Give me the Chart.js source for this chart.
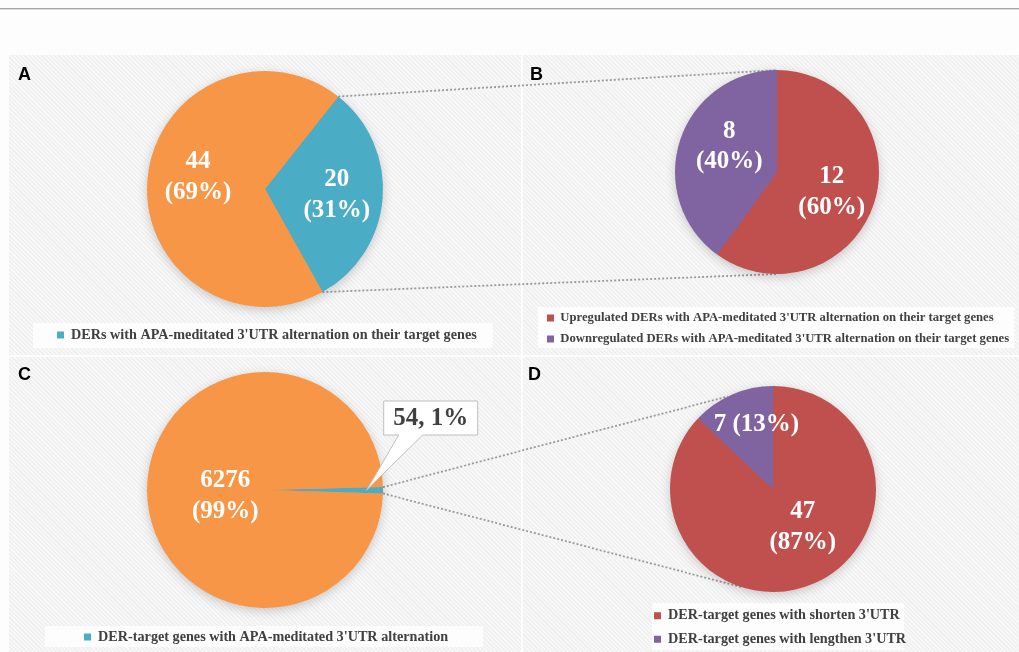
<!DOCTYPE html>
<html><head><meta charset="utf-8">
<script src="https://cdn.jsdelivr.net/npm/chart.js@4.4.0/dist/chart.umd.min.js"></script>
<style>
html,body{margin:0;padding:0;width:1019px;height:652px;overflow:hidden;background:#fdfdfd;}
#topline{position:absolute;left:0;top:8px;width:1019px;height:1px;background:#a6a6a6;border-bottom:1px solid #dcdcdc;}
.bg{position:absolute;z-index:0;background:repeating-linear-gradient(45deg,#f0f0f0 0px,#f0f0f0 1.5px,#f8f8f8 1.5px,#f8f8f8 3px);}
.letter{position:absolute;z-index:3;font:bold 18px "Liberation Sans",Arial,sans-serif;color:#000;line-height:18px;}
.cw{position:absolute;z-index:2;}
#links{position:absolute;left:0;top:0;z-index:1;}
</style></head><body>
<div id="topline"></div>
<div class="bg" style="left:9px;top:55px;width:512px;height:300px"></div>
<div class="bg" style="left:523px;top:55px;width:496px;height:300px"></div>
<div class="bg" style="left:9px;top:357px;width:512px;height:295px"></div>
<div class="bg" style="left:523px;top:357px;width:496px;height:295px"></div>
<canvas id="links" width="1019" height="652"></canvas>
<div id="root"></div>
<script>
// ---------------- data ----------------
const panelLetters = ['A', 'B', 'C', 'D'];

const catA = ["DERs with APA-meditated 3'UTR alternation on their target genes",
              "DERs without APA-meditated 3'UTR alternation on their target genes"];
const valA = [20, 44];

const catB = ["Upregulated DERs with APA-meditated 3'UTR alternation on their target genes",
              "Downregulated DERs with APA-meditated 3'UTR alternation on their target genes"];
const valB = [12, 8];

const catC = ["DER-target genes with APA-meditated 3'UTR alternation",
              "DER-target genes without APA-meditated 3'UTR alternation"];
const valC = [54, 6276];

const catD = ["DER-target genes with shorten 3'UTR",
              "DER-target genes with lengthen 3'UTR"];
const valD = [47, 7];

// ---------------- styles / layout ----------------
const BLUE = '#4BACC6', ORANGE = '#F79646', RED = '#C0504D', PURPLE = '#8064A2';
const SERIF = '"Liberation Serif","Times New Roman",serif';

const panels = [
  { id: 'A', cats: catA, vals: valA, colors: [BLUE, ORANGE], legendIdx: [0], rotation: 38.4,
    center: [265, 189], radius: 118,
    box: { left: 9, top: 55, w: 512, h: 300 }, pad: { left: 41, right: 0, top: 0, bottom: 2.9 },
    legFont: 14.2, legPad: 7,
    legBg: { l: 24, r: 16, t: 12, b: 13 }, letter: { left: 18, top: 65 },
    labels: [{ f: 0.61, turn: 0, mode: 'two' }, { f: 0.576, turn: 5.5, mode: 'two' }] },
  { id: 'B', cats: catB, vals: valB, colors: [RED, PURPLE], legendIdx: [0, 1], rotation: 0,
    center: [777, 172], radius: 102,
    box: { left: 523, top: 35, w: 496, h: 325 }, pad: { left: 15.7, right: 0, top: 0, bottom: 4.65 },
    legFont: 12.7, legPad: 8.3,
    legBg: { l: 9, r: 5, t: 11, b: 9 }, letter: { left: 530, top: 65 },
    labels: [{ f: 0.57, turn: 2, mode: 'two' }, { f: 0.53, turn: 10, mode: 'two' }] },
  { id: 'C', cats: catC, vals: valC, colors: [BLUE, ORANGE], legendIdx: [0], rotation: 88.6,
    center: [265, 490], radius: 118,
    box: { left: 9, top: 350, w: 512, h: 305 }, pad: { left: 68, right: 0, top: 0, bottom: 0.9 },
    legFont: 14.2, legPad: 7,
    legBg: { l: 39, r: 35, t: 11, b: 10 }, letter: { left: 18, top: 365 },
    labels: [{ f: 0.86, mode: 'callout', dx: 1.404, dy: -0.61 }, { f: 0.34, turn: -8.6, mode: 'two' }] },
  { id: 'D', cats: catD, vals: valD, colors: [RED, PURPLE], legendIdx: [0, 1], rotation: 0,
    center: [773, 489], radius: 103,
    box: { left: 523, top: 350, w: 496, h: 308 }, pad: { left: 121.6, right: 0, top: 0, bottom: 1.6 },
    legFont: 14.2, legPad: 9.4,
    legBg: { l: 2, r: -2, t: 12.7, b: 10.7 }, letter: { left: 528, top: 365 },
    labels: [{ f: 0.47, turn: -14.7, mode: 'two' }, { f: 0.65, turn: 9, mode: 'one' }] }
];

const links = [
  { from: 'A', idx: 0, edge: 'startAngle', to: 'B', deg: 0 },
  { from: 'A', idx: 0, edge: 'endAngle', to: 'B', deg: 180 },
  { from: 'C', idx: 0, edge: 'startAngle', to: 'D', deg: -26 },
  { from: 'C', idx: 0, edge: 'endAngle', to: 'D', deg: 198 }
];

// ---------------- plugin ----------------
function makeDeco(p) {
  return {
    id: 'deco' + p.id,
    afterLayout(chart) {
      const ca = chart.chartArea;
      const cx = p.center[0] - p.box.left, cy = p.center[1] - p.box.top, r = p.radius;
      ca.left = cx - r; ca.right = cx + r; ca.top = cy - r; ca.bottom = cy + r;
      ca.width = 2 * r; ca.height = 2 * r;
    },
    beforeDraw(chart) {
      const hb = chart.legend && chart.legend.legendHitBoxes;
      if (!hb || !hb.length) return;
      let l = Infinity, r = -Infinity, t = Infinity, b = -Infinity;
      hb.forEach(h => {
        l = Math.min(l, h.left); r = Math.max(r, h.left + h.width);
        const c = h.top + h.height / 2; t = Math.min(t, c); b = Math.max(b, c);
      });
      const ctx = chart.ctx;
      ctx.save();
      ctx.fillStyle = 'rgba(253,253,253,0.96)';
      const x0 = l - p.legBg.l, y0 = t - p.legBg.t;
      ctx.fillRect(x0, y0, r + p.legBg.r - x0, b + p.legBg.b - y0);
      ctx.restore();
    },
    beforeDatasetsDraw(chart) {
      const a = chart.getDatasetMeta(0).data[0];
      const ctx = chart.ctx;
      ctx.save();
      ctx.shadowColor = 'rgba(0,0,0,0.22)';
      ctx.shadowBlur = 12;
      ctx.shadowOffsetY = 3;
      ctx.fillStyle = p.colors[1];
      ctx.beginPath();
      ctx.arc(a.x, a.y, a.outerRadius - 1, 0, Math.PI * 2);
      ctx.fill();
      ctx.restore();
    },
    afterDatasetsDraw(chart) {
      const meta = chart.getDatasetMeta(0);
      const vals = chart.data.datasets[0].data;
      const total = vals.reduce((s, v) => s + v, 0);
      const ctx = chart.ctx;
      ctx.save();
      ctx.font = 'bold 25px ' + SERIF;
      ctx.textAlign = 'center';
      ctx.textBaseline = 'middle';
      p.labels.forEach((lb, i) => {
        const arc = meta.data[i];
        const v = vals[i];
        const pct = Math.round(v / total * 100);
        const mid = (arc.startAngle + arc.endAngle) / 2 + (lb.turn || 0) * Math.PI / 180;
        const R = arc.outerRadius;
        if (lb.mode === 'callout') {
          const tx = arc.x + Math.cos(mid) * R * lb.f, ty = arc.y + Math.sin(mid) * R * lb.f;
          const text = v + ', ' + pct + '%';
          const tw = ctx.measureText(text).width;
          const bw = tw + 19, bh = 34;
          const cx = arc.x + lb.dx * R, cy = arc.y + lb.dy * R;
          const bl = cx - bw / 2, bt = cy - bh / 2, br = cx + bw / 2, bb = cy + bh / 2;
          ctx.beginPath();
          ctx.moveTo(bl, bt); ctx.lineTo(br, bt); ctx.lineTo(br, bb);
          ctx.lineTo(bl + 39, bb); ctx.lineTo(tx, ty); ctx.lineTo(bl + 15, bb);
          ctx.lineTo(bl, bb); ctx.closePath();
          ctx.fillStyle = 'rgba(255,255,255,0.92)';
          ctx.fill();
          ctx.lineWidth = 1; ctx.strokeStyle = '#bfbfbf';
          ctx.stroke();
          ctx.fillStyle = '#404040';
          ctx.fillText(text, cx, cy + 1);
        } else {
          const x = arc.x + Math.cos(mid) * R * lb.f, y = arc.y + Math.sin(mid) * R * lb.f;
          ctx.fillStyle = '#ffffff';
          if (lb.mode === 'two') {
            ctx.fillText(String(v), x, y - 15.25);
            ctx.fillText('(' + pct + '%)', x, y + 15.25);
          } else {
            ctx.fillText(v + ' (' + pct + '%)', x, y);
          }
        }
      });
      ctx.restore();
    }
  };
}

// ---------------- build charts ----------------
const root = document.getElementById('root');
const charts = {};
panels.forEach((p, k) => {
  const wrap = document.createElement('div');
  wrap.className = 'cw';
  wrap.style.left = p.box.left + 'px'; wrap.style.top = p.box.top + 'px';
  wrap.style.width = p.box.w + 'px'; wrap.style.height = p.box.h + 'px';
  const cv = document.createElement('canvas');
  cv.width = p.box.w; cv.height = p.box.h;
  cv.style.width = p.box.w + 'px'; cv.style.height = p.box.h + 'px';
  wrap.appendChild(cv);
  root.appendChild(wrap);

  const lt = document.createElement('div');
  lt.className = 'letter';
  lt.style.left = p.letter.left + 'px'; lt.style.top = p.letter.top + 'px';
  lt.textContent = panelLetters[k];
  document.body.appendChild(lt);

  charts[p.id] = new Chart(cv, {
    type: 'pie',
    data: {
      labels: p.cats,
      datasets: [{ data: p.vals, backgroundColor: p.colors, borderWidth: 0, hoverOffset: 0, clip: false }]
    },
    options: {
      responsive: false,
      animation: false,
      rotation: p.rotation,
      radius: p.radius,
      layout: { padding: p.pad },
      plugins: {
        tooltip: { enabled: false },
        legend: {
          display: true,
          position: 'bottom',
          align: 'start',
          labels: {
            boxWidth: 7, boxHeight: 7, padding: p.legPad, color: '#404040',
            font: { family: SERIF, size: p.legFont, weight: 'bold' },
            filter: (item) => p.legendIdx.includes(item.index)
          }
        }
      }
    },
    plugins: [makeDeco(p)]
  });
});

// ---------------- connectors ----------------
function edgePoint(chart, canvasAngle) {
  const a = chart.getDatasetMeta(0).data[0];
  const rect = chart.canvas.getBoundingClientRect();
  return [rect.left + a.x + Math.cos(canvasAngle) * a.outerRadius,
          rect.top + a.y + Math.sin(canvasAngle) * a.outerRadius];
}
const lctx = document.getElementById('links').getContext('2d');
lctx.strokeStyle = '#9a9a9a';
lctx.lineWidth = 1.8;
lctx.setLineDash([2, 2]);
links.forEach(L => {
  const src = charts[L.from];
  const ang = src.getDatasetMeta(0).data[L.idx][L.edge];
  const p1 = edgePoint(src, ang);
  const p2 = edgePoint(charts[L.to], (L.deg - 90) * Math.PI / 180);
  lctx.beginPath();
  lctx.moveTo(p1[0], p1[1]);
  lctx.lineTo(p2[0], p2[1]);
  lctx.stroke();
});
</script>
</body></html>
